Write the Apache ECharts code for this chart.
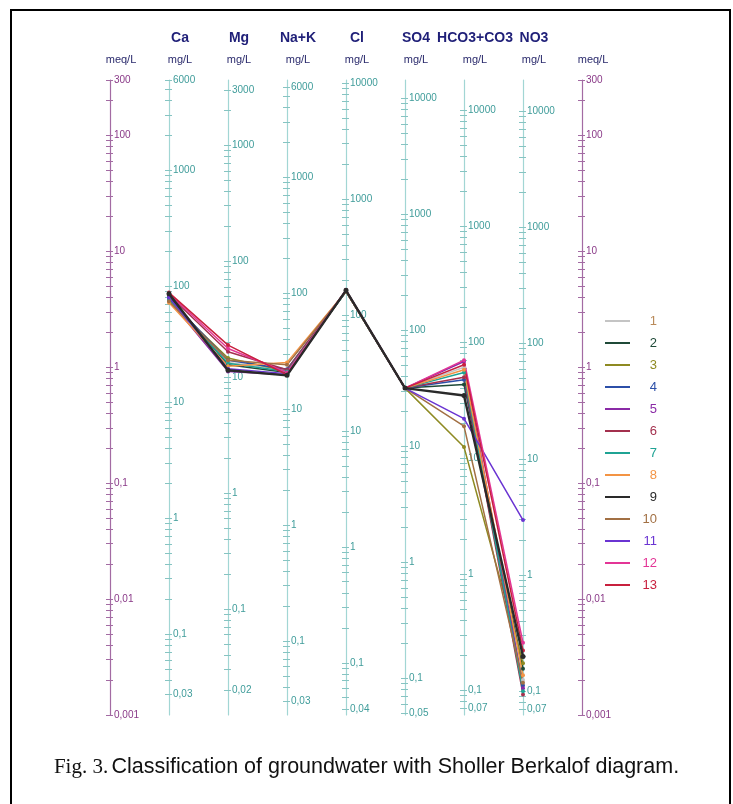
<!DOCTYPE html>
<html>
<head>
<meta charset="utf-8">
<script src="https://cdn.jsdelivr.net/npm/echarts@6/dist/echarts.min.js"></script>
<style>
  html, body { margin: 0; padding: 0; background: #fff; }
  #chart { width: 733px; height: 804px; }
</style>
</head>
<body>
<div id="chart"></div>
<script>
// Ions plotted on the Schoeller diagram, left to right
const ions = ['Ca', 'Mg', 'Na+K', 'Cl', 'SO4', 'HCO3+CO3', 'NO3'];
// Equivalent weights (mg per meq) used to scale each mg/L axis
const eqWeights = [20.04, 12.15, 23.0, 35.45, 48.03, 61.02, 62.0];

// Tick labels on each mg/L axis
const caLabels = [6000, 1000, 100, 10, 1, 0.1, 0.03];
const mgLabels = [3000, 1000, 100, 10, 1, 0.1, 0.02];
const naLabels = [6000, 1000, 100, 10, 1, 0.1, 0.03];
const clLabels = [10000, 1000, 100, 10, 1, 0.1, 0.04];
const so4Labels = [10000, 1000, 100, 10, 1, 0.1, 0.05];
const hco3Labels = [10000, 1000, 100, 10, 1, 0.1, 0.07];
const no3Labels = [10000, 1000, 100, 10, 1, 0.1, 0.07];
const meqLabels = [300, 100, 10, 1, 0.1, 0.01, 0.001];
const meqMin = 0.001;
const meqMax = 300;

// Sample concentrations in meq/L: Ca, Mg, Na+K, Cl, SO4, HCO3+CO3, NO3
const s1 = [3.9, 1.10, 0.95, 4.6, 0.66, 1.00, 0.0020];
const s2 = [4.1, 1.05, 0.90, 4.5, 0.66, 0.71, 0.0025];
const s3 = [3.7, 1.20, 0.92, 4.5, 0.66, 0.205, 0.0028];
const s4 = [3.9, 1.15, 0.96, 4.5, 0.66, 0.78, 0.0018];
const s5 = [3.8, 0.92, 0.86, 4.6, 0.66, 1.12, 0.0017];
const s6 = [4.2, 1.36, 0.95, 4.6, 0.66, 0.82, 0.0015];
const s7 = [3.8, 1.08, 0.92, 4.5, 0.66, 0.90, 0.0016];
const s8 = [3.6, 1.02, 1.10, 4.5, 0.66, 0.95, 0.0022];
const s9 = [4.3, 0.94, 0.85, 4.6, 0.66, 0.57, 0.0032];
const s10 = [3.7, 1.15, 1.05, 4.5, 0.66, 0.31, 0.0019];
const s11 = [4.0, 0.97, 0.88, 4.6, 0.66, 0.36, 0.048];
const s12 = [4.3, 1.45, 0.90, 4.6, 0.66, 1.15, 0.0042];
const s13 = [4.4, 1.55, 0.86, 4.6, 0.66, 1.05, 0.0036];

const sampleNames = ['1', '2', '3', '4', '5', '6', '7', '8', '9', '10', '11', '12', '13'];
const sampleValues = [s1, s2, s3, s4, s5, s6, s7, s8, s9, s10, s11, s12, s13];
const lineColors = ['#c4c4c4', '#1f4a38', '#8e8a22', '#2c4fa8', '#8a2aa6', '#a3304e', '#1fa394',
                    '#f39444', '#2a2a2a', '#a27044', '#6a34d2', '#e33596', '#c8203e'];
const legendTextColors = ['#b98a5a', '#1f4a38', '#8e8a22', '#2c4fa8', '#8a2aa6', '#a3304e', '#1fa394',
                          '#f39444', '#2a2a2a', '#a27044', '#6a34d2', '#e33596', '#c8203e'];

const ionLabelSets = [caLabels, mgLabels, naLabels, clLabels, so4Labels, hco3Labels, no3Labels];
const headerTexts = [' ', ...ions, ' '];
const unitTexts = ['meq/L', 'mg/L', 'mg/L', 'mg/L', 'mg/L', 'mg/L', 'mg/L', 'mg/L', 'meq/L'];

const GRID_LEFT = 110, GRID_RIGHT = 151, GRID_TOP = 80, GRID_BOTTOM = 89;
const PLOT_W = 733 - GRID_LEFT - GRID_RIGHT;
const N_AXES = 9;

// 1..9 x 10^k tick marks inside [lo, hi]
function logTicks(lo, hi) {
  const out = [];
  for (let k = -4; k <= 5; k++) {
    for (let m = 1; m <= 9; m++) {
      const v = Number((m * Math.pow(10, k)).toPrecision(6));
      if (v >= lo * 0.9999 && v <= hi * 1.0001) out.push(v);
    }
  }
  return out;
}
const fmt = v => String(v).replace('.', ',');

const PURPLE_LINE = '#a36ba3', PURPLE_TEXT = '#8a3a88';
const TEAL_LINE = '#a2d6d4', TEAL_TICK = '#86c4c2', TEAL_TEXT = '#3f9c9a';

const yAxes = [];
function addAxis(k, lo, hi, labels, lineColor, tickColor, textColor) {
  const offset = Math.round(PLOT_W * k / (N_AXES - 1)) - PLOT_W;
  const ticks = logTicks(lo, hi);
  // axis line, right-hand ticks and labels
  yAxes.push({
    type: 'log', logBase: 10, min: lo, max: hi, position: 'right', offset: offset,
    axisLine: { show: true, lineStyle: { color: lineColor, width: 1.2 } },
    axisTick: { show: true, length: 3, customValues: ticks, lineStyle: { color: tickColor, width: 1 } },
    axisLabel: { show: true, customValues: labels, margin: 4, formatter: fmt,
                 color: textColor, fontSize: 10, fontFamily: 'Liberation Sans, Arial, sans-serif' },
    splitLine: { show: false }, minorTick: { show: false }
  });
  // left-hand half of the crossing ticks
  yAxes.push({
    type: 'log', logBase: 10, min: lo, max: hi, position: 'right', offset: offset,
    axisLine: { show: false },
    axisTick: { show: true, inside: true, length: 4, customValues: ticks, lineStyle: { color: tickColor, width: 1 } },
    axisLabel: { show: false },
    splitLine: { show: false }, minorTick: { show: false }
  });
}
addAxis(0, meqMin, meqMax, meqLabels, PURPLE_LINE, PURPLE_LINE, PURPLE_TEXT);
for (let i = 0; i < ions.length; i++) {
  addAxis(i + 1, meqMin * eqWeights[i], meqMax * eqWeights[i], ionLabelSets[i], TEAL_LINE, TEAL_TICK, TEAL_TEXT);
}
addAxis(8, meqMin, meqMax, meqLabels, PURPLE_LINE, PURPLE_LINE, PURPLE_TEXT);

const series = sampleValues.map((vals, s) => ({
  name: sampleNames[s],
  type: 'line',
  xAxisIndex: 0,
  yAxisIndex: 0,
  data: vals.map((v, i) => [i + 1, v]),
  symbol: 'circle',
  symbolSize: s === 8 ? 5 : 4,
  lineStyle: { color: lineColors[s], width: s === 8 ? 2.4 : 1.5 },
  itemStyle: { color: lineColors[s] },
  emphasis: { disabled: true },
  z: s === 8 ? 4 : 3
}));

const chart = echarts.init(document.getElementById('chart'), null, { renderer: 'canvas' });
chart.setOption({
  animation: false,
  backgroundColor: '#ffffff',
  grid: { left: GRID_LEFT, right: GRID_RIGHT, top: GRID_TOP, bottom: GRID_BOTTOM },
  xAxis: [{
    type: 'category', position: 'top', boundaryGap: false,
    data: headerTexts,
    axisLine: { show: false }, axisTick: { show: false }, splitLine: { show: false },
    axisLabel: {
      interval: 0, margin: 9, hideOverlap: false,
      padding: [0, 0, 0, 22],
      formatter: (value, index) => '{h|' + headerTexts[index] + '}\n{u|' + unitTexts[index] + '}',
      rich: {
        h: { fontSize: 14, fontWeight: 'bold', color: '#1f1f78', lineHeight: 22,
             fontFamily: 'Liberation Sans, Arial, sans-serif' },
        u: { fontSize: 11, color: '#2a2a6c', lineHeight: 22,
             fontFamily: 'Liberation Sans, Arial, sans-serif' }
      }
    }
  }],
  yAxis: yAxes,
  legend: {
    orient: 'vertical', left: 600, top: 309,
    icon: 'rect', itemWidth: 25, itemHeight: 2, itemGap: 8,
    data: sampleNames.map((n, i) => ({ name: n, textStyle: { color: legendTextColors[i] } })),
    formatter: n => '{n|' + n + '}',
    textStyle: {
      fontSize: 13, lineHeight: 14, fontFamily: 'Liberation Sans, Arial, sans-serif',
      rich: { n: { width: 22, align: 'right', fontSize: 13, lineHeight: 14 } }
    },
    selectedMode: false
  },
  series: series,
  graphic: [
    {
      type: 'polyline', silent: true,
      shape: { points: [[11, 804], [11, 10], [730, 10], [730, 804]] },
      style: { stroke: '#000', lineWidth: 2, fill: null }
    },
    {
      type: 'text', left: 'center', top: 756, silent: true,
      style: {
        text: '{f|Fig. 3.} {t|Classification of groundwater with Sholler Berkalof diagram.}',
        rich: {
          f: { fontFamily: 'Liberation Serif, Times New Roman, serif', fontSize: 21, fill: '#111' },
          t: { fontFamily: 'Liberation Sans Narrow, Arial Narrow, Liberation Sans, sans-serif', fontSize: 21.5, fill: '#111' }
        }
      }
    }
  ]
});
</script>
</body>
</html>
